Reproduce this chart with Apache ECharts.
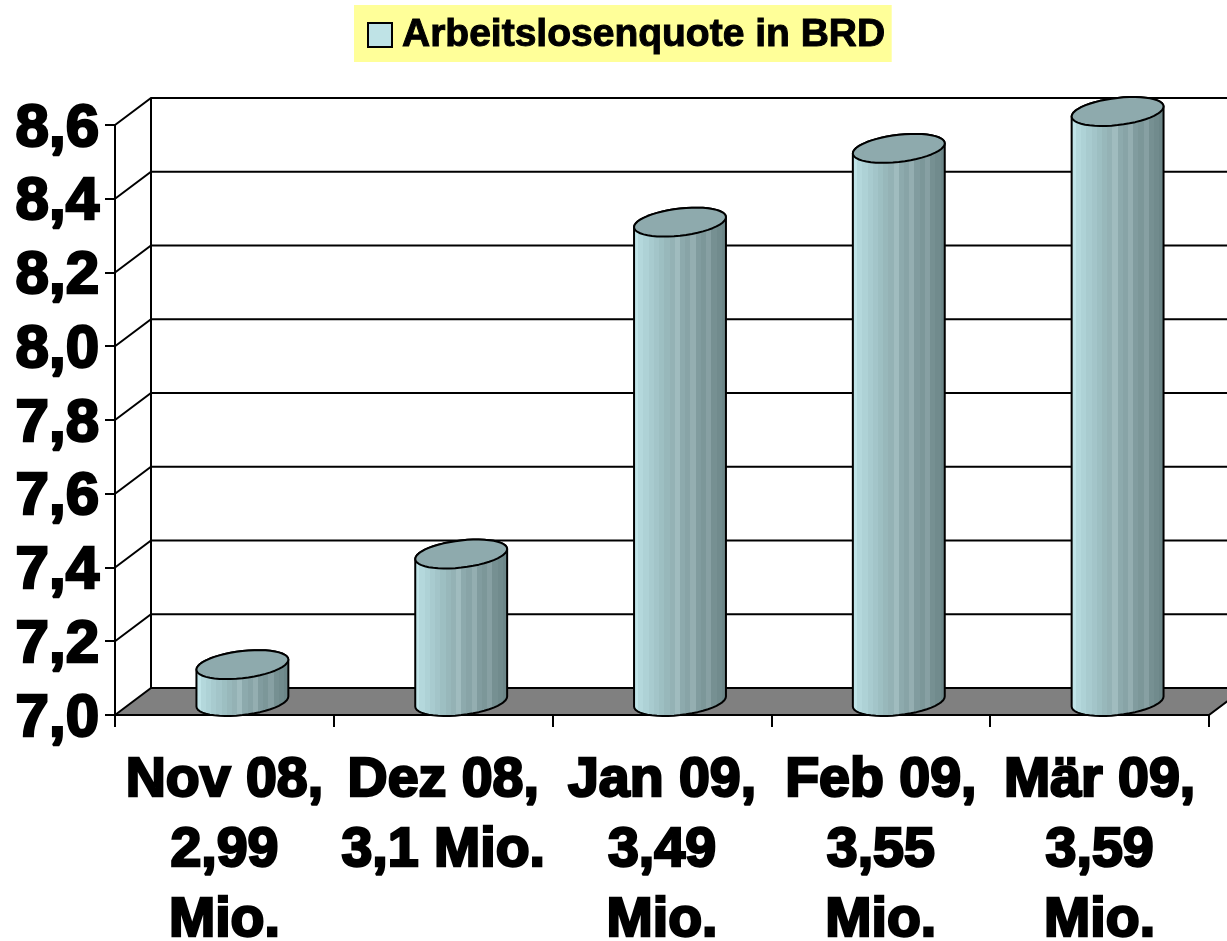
<!DOCTYPE html>
<html>
<head>
<meta charset="utf-8">
<title>Arbeitslosenquote in BRD</title>
<style>html,body{margin:0;padding:0;background:#fff}#chart{width:1227px;height:941px}</style>
<script src="https://cdn.jsdelivr.net/npm/echarts@6/dist/echarts.min.js"></script>
</head>
<body>
<div id="chart"></div>
<script>
const seriesName = 'Arbeitslosenquote in BRD';
const categories = ['Nov 08,\n2,99\nMio.', 'Dez 08,\n3,1 Mio.', 'Jan 09,\n3,49\nMio.', 'Feb 09,\n3,55\nMio.', 'Mär 09,\n3,59\nMio.'];
const quote = [7.1, 7.4, 8.3, 8.5, 8.6];
const yTicks = [7.0, 7.2, 7.4, 7.6, 7.8, 8.0, 8.2, 8.4, 8.6];

// Pseudo-3D depth of the plot box, in pixels
const DEPTH_X = 36, DEPTH_Y = -27;
const FONT = '"Liberation Sans", Arial, sans-serif';

// Banded shading round the cylinder wall, left to right
const wallBands = ['#c0e4e8', '#b4d8dc', '#aed2d6', '#a8cbcf', '#a3c5c9', '#9dbfc2', '#98b8bb', '#94b2b5', '#a0bcbf', '#8daaad', '#88a4a7', '#94aeb1', '#819c9f', '#7c9799', '#87a0a3', '#769092', '#718b8d', '#6c8688'];
const wallStops = [];
wallBands.forEach((c, i) => {
  wallStops.push({ offset: i / wallBands.length, color: c });
  wallStops.push({ offset: (i + 1) / wallBands.length, color: c });
});

function ellipsePoint(cx, cy, a, t) {
  return [cx + a * Math.cos(t), cy - 5 * Math.cos(t) - 13.6 * Math.sin(t)];
}

function renderFrame(params, api) {
  const size = api.getWidth();
  const origin = api.coord([0, 7]);
  const x0 = params.coordSys.x, x1 = x0 + params.coordSys.width;
  const y0 = origin[1];
  const children = [{
    type: 'polygon',
    shape: { points: [[x0, y0], [x0 + DEPTH_X, y0 + DEPTH_Y], [x1 + DEPTH_X, y0 + DEPTH_Y], [x1, y0]] },
    style: { fill: '#808080', stroke: '#000', lineWidth: 2 }
  }];
  const top = api.coord([0, yTicks[yTicks.length - 1]])[1];
  children.push({
    type: 'line',
    shape: { x1: x0 + DEPTH_X, y1: top + DEPTH_Y, x2: x0 + DEPTH_X, y2: y0 + DEPTH_Y },
    style: { stroke: '#000', lineWidth: 2 }
  });
  yTicks.forEach(v => {
    const y = api.coord([0, v])[1];
    if (v === yTicks[0]) return;
    children.push({
      type: 'polyline',
      shape: { points: [[x0, y], [x0 + DEPTH_X, y + DEPTH_Y], [size + DEPTH_X, y + DEPTH_Y]] },
      style: { stroke: '#000', lineWidth: 2, fill: 'none' }
    });
  });
  return { type: 'group', children };
}

function renderCylinder(params, api) {
  const top = api.coord([api.value(0), api.value(1)]);
  const base = api.coord([api.value(0), 7]);
  const a = api.size([1, 0])[0] * 0.21;
  const cx = top[0] + DEPTH_X / 2;
  const topY = top[1] + DEPTH_Y / 2;
  const baseY = base[1] + DEPTH_Y / 2;
  const wall = [], cap = [];
  const steps = 48;
  for (let i = 0; i <= steps / 2; i++) {
    wall.push(ellipsePoint(cx, topY, a, Math.PI * i / (steps / 2)));
  }
  for (let i = 0; i <= steps / 2; i++) {
    wall.push(ellipsePoint(cx, baseY, a, Math.PI + Math.PI * i / (steps / 2)));
  }
  for (let i = 0; i < steps; i++) {
    cap.push(ellipsePoint(cx, topY, a, 2 * Math.PI * i / steps));
  }
  return {
    type: 'group',
    children: [{
      type: 'polygon',
      shape: { points: wall },
      style: {
        fill: new echarts.graphic.LinearGradient(0, 0, 1, 0, wallStops),
        stroke: '#000', lineWidth: 2, lineJoin: 'round'
      }
    }, {
      type: 'polygon',
      shape: { points: cap },
      style: { fill: '#8eaaad', stroke: '#000', lineWidth: 2, lineJoin: 'round' }
    }]
  };
}

const chart = echarts.init(document.getElementById('chart'), null, { renderer: 'canvas' });
chart.setOption({
  animation: false,
  backgroundColor: '#fff',
  legend: {
    left: 354, top: 5,
    padding: [8, 6, 5, 13],
    backgroundColor: '#ffff99',
    itemWidth: 24, itemHeight: 24, itemGap: 0,
    icon: 'rect',
    selectedMode: false,
    data: [{ name: seriesName, itemStyle: { color: '#bfe3e6', borderColor: '#000', borderWidth: 2 } }],
    textStyle: {
      fontFamily: FONT, fontWeight: 'bold', fontSize: 39, color: '#000',
      textBorderColor: '#000', textBorderWidth: 1, padding: [9, 0, 0, 5],
      lineHeight: 35
    }
  },
  grid: { left: 115, right: 18, top: 125, bottom: 226, outerBoundsMode: 'none' },
  xAxis: {
    type: 'category',
    data: categories,
    z: 3,
    axisLine: { show: true, lineStyle: { color: '#000', width: 2 } },
    axisTick: { show: true, alignWithLabel: false, length: 12, lineStyle: { color: '#000', width: 2 } },
    axisLabel: {
      interval: 0, margin: 31, color: '#000',
      fontFamily: FONT, fontWeight: 'bold', fontSize: 55.5, lineHeight: 70,
      textBorderColor: '#000', textBorderWidth: 2.5, hideOverlap: false
    }
  },
  yAxis: {
    type: 'value',
    min: 7, max: 8.6, interval: 0.2,
    z: 3,
    splitLine: { show: false },
    axisLine: { show: true, lineStyle: { color: '#000', width: 2 } },
    axisTick: { show: true, length: 10, lineStyle: { color: '#000', width: 2 } },
    axisLabel: {
      margin: 16, color: '#000',
      fontFamily: FONT, fontWeight: 'bold', fontSize: 60,
      textBorderColor: '#000', textBorderWidth: 2.5,
      verticalAlign: 'top', lineHeight: 8,
      formatter: v => v.toFixed(1).replace('.', ',')
    }
  },
  series: [{
    type: 'custom',
    silent: true,
    z: 1,
    clip: false,
    coordinateSystem: 'cartesian2d',
    data: [[0, 7]],
    renderItem: renderFrame
  }, {
    name: seriesName,
    type: 'custom',
    z: 4,
    clip: false,
    coordinateSystem: 'cartesian2d',
    itemStyle: { color: '#bfe3e6' },
    encode: { x: 0, y: 1 },
    data: quote.map((v, i) => [i, v]),
    renderItem: renderCylinder
  }]
});
</script>
</body>
</html>
